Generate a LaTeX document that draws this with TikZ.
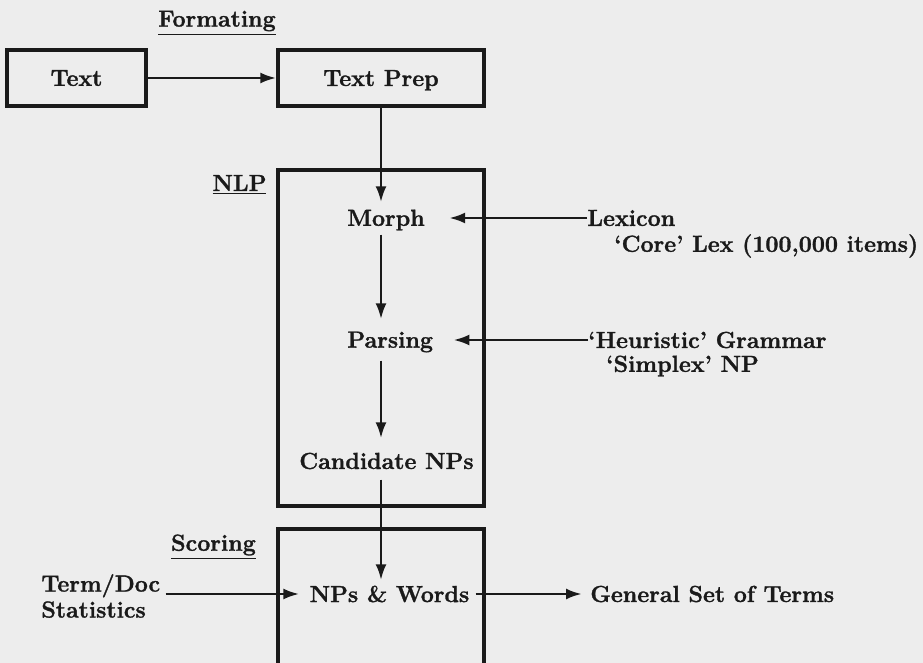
\documentclass[tikz,border=0pt]{standalone}
\usepackage{fontspec}
\setmainfont{Latin Modern Roman}[BoldFeatures={FakeBold=1.3}]
\usetikzlibrary{arrows.meta}
\definecolor{bg}{HTML}{EDEDED}
\definecolor{ink}{HTML}{1A1A1A}
\begin{document}
\begin{tikzpicture}[x=0.5pt,y=-0.5pt,
  every node/.style={font=\fontsize{11.6}{13}\selectfont\bfseries, text=ink},
  box/.style={draw=ink, line width=1.7pt, inner sep=0pt, text depth=0pt},
  lbl/.style={inner sep=0pt},
  arr/.style={draw=ink, line width=1.4pt, -{Latex[length=8pt,width=5.5pt]}},
  ]
\path[use as bounding box, clip] (0,0) rectangle (923,663);
\fill[bg] (0,0) rectangle (923,663);
% boxes
\node[box, minimum width=69.5pt, minimum height=28pt] (text) at (76.5,78) {Text};
\node[box, minimum width=103pt, minimum height=28pt] (prep) at (381,78) {Text Prep};
\node[box, minimum width=103pt, minimum height=168pt] (nlp) at (381,338) {};
\node[box, minimum width=103pt, minimum height=85.5pt] (scorebox) at (381,614.5) {};
% section labels
\node[lbl] (fmt) at (217,23) {\underline{Formating}};
\node[lbl] (nlplbl) at (239.5,185) {\underline{NLP}};
\node[lbl] (scorelbl) at (213.5,547) {\underline{Scoring}};
% spine
\node[lbl] (morph) at (386,220) {Morph};
\node[lbl, anchor=west] (pars) at (347,342) {Parsing};
\node[lbl] (cand) at (386.5,461) {Candidate NPs};
\node[lbl] (npw) at (389.5,594) {NPs \& Words};
% side labels
\node[lbl, anchor=west] (lex) at (587,218) {Lexicon};
\node[lbl, anchor=west] (core) at (614,246) {‘Core’ Lex (100,000 items)};
\node[lbl, anchor=west] (heur) at (588,340) {‘Heuristic’ Grammar};
\node[lbl, anchor=west] (simp) at (606,366) {‘Simplex’ NP};
\node[lbl, anchor=west, align=left] (td) at (41,596) {Term/Doc\\Statistics};
\node[lbl, anchor=west] (gen) at (590,594) {General Set of Terms};
% connectors
\draw[arr] (text.east) -- (prep.west);
\draw[arr, shorten >=3.5pt] (prep.south) -- (prep.south |- morph.north);
\draw[arr, shorten <=2pt, shorten >=6pt] (prep.south |- morph.south) -- (prep.south |- pars.north);
\draw[arr, shorten <=4pt, shorten >=7pt] (prep.south |- pars.south) -- (prep.south |- cand.north);
\draw[arr, shorten <=5pt, shorten >=2.5pt] (prep.south |- cand.south) -- (prep.south |- npw.north);
\draw[arr, shorten >=12pt] (lex.west) -- (lex.west -| morph.east);
\draw[arr, shorten >=10pt] (heur.west) -- (heur.west -| pars.east);
\draw[arr, shorten <=2.5pt, shorten >=5pt] (td.east |- npw.west) -- (npw.west);
\draw[arr, shorten <=3pt, shorten >=4pt] (npw.east) -- (gen.west);
\end{tikzpicture}
\end{document}
